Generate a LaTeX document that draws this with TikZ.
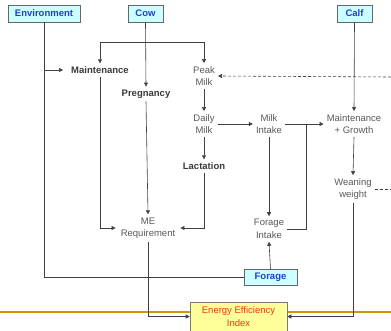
\documentclass[tikz,border=0pt]{standalone}
\usepackage{fontspec}
\setmainfont{Liberation Sans}
\usetikzlibrary{arrows.meta}
\definecolor{boxfill}{HTML}{CCFFFF}
\definecolor{boxtext}{HTML}{1F3FCC}
\definecolor{linecol}{HTML}{404040}
\definecolor{txtgray}{HTML}{595959}
\definecolor{txtdark}{HTML}{3A3A3A}
\definecolor{eeifill}{HTML}{FFFF99}
\definecolor{eeitext}{HTML}{FF3010}
\definecolor{gold}{HTML}{CC9900}
\tikzset{
  inbox/.style={draw=linecol!80, fill=boxfill, line width=0.6pt, text=boxtext,
    font=\fontsize{9.5}{11}\selectfont\bfseries, inner sep=0pt, minimum height=17pt},
  plain/.style={text=txtgray, font=\fontsize{9.5}{12.5}\selectfont, align=center, inner sep=3pt},
  strong/.style={text=txtdark, font=\fontsize{9.5}{12.5}\selectfont\bfseries, align=center, inner sep=3pt},
  conn/.style={draw=linecol, line width=0.6pt},
  arr/.style={conn, -{Triangle[length=4pt,width=4pt]}},
  dasharr/.style={arr, dash pattern=on 3pt off 2pt},
  dashline/.style={conn, dash pattern=on 3pt off 2pt}
}
\begin{document}
\begin{tikzpicture}[x=1pt,y=-1pt]
\useasboundingbox (0,0) rectangle (391,330);
% gold line
\draw[gold, line width=1.4pt] (0,312) -- (391,312);
% input boxes
\node[inbox, minimum width=72pt] (env) at (44,13.5) {Environment};
\node[inbox, minimum width=35pt] (cow) at (145.5,13.5) {Cow};
\node[inbox, minimum width=35pt] (calf) at (354.5,13.5) {Calf};
\node[inbox, minimum width=53pt, minimum height=16pt] (forage) at (270.5,277.5) {Forage};
\node[draw=linecol!70, fill=eeifill, line width=0.6pt, text=eeitext,
  font=\fontsize{9.5}{12.5}\selectfont, align=center, inner sep=0pt,
  minimum width=97pt, minimum height=29pt] (eei) at (238.5,316.5) {Energy Efficiency\\Index};
% text nodes
\node[strong] (maint) at (100,70) {Maintenance};
\node[plain] (peak) at (204,76) {Peak\\Milk};
\node[strong] (preg) at (146,94) {Pregnancy};
\node[plain] (daily) at (204,124) {Daily\\Milk};
\node[plain] (milkint) at (269,124) {Milk\\Intake};
\node[plain] (mg) at (354,124) {Maintenance\\+ Growth};
\node[strong] (lact) at (204,166) {Lactation};
\node[plain] (wean) at (353,189) {Weaning\\weight};
\node[plain] (me) at (148,228) {ME\\Requirement};
\node[plain] (fint) at (269,229) {Forage\\Intake};
% coordinates
\coordinate (envm) at (44,70);
\coordinate (splitL) at (100,42);
\coordinate (splitR) at (204,42);
\coordinate (dashR) at (391,77);
\coordinate (dashW) at (391,189);
\coordinate (jn) at (306,124);
% connectors
\draw[conn] (env.south) |- (forage.west);
\draw[arr, shorten >=5pt] (envm) -- (maint.west);
\draw[arr] (cow.south) -- (preg.north);
\draw[conn] (splitL) -- (splitR);
\draw[arr] (splitL) -- (maint.north);
\draw[arr] (splitR) -- (peak.north);
\draw[dasharr] (dashR) -- (peak.east);
\draw[arr] (peak.south) -- (daily.north);
\draw[arr] (daily.south) -- (lact.north);
\draw[arr, shorten >=2pt] (lact.south) |- (me.east);
\draw[arr, shorten >=2pt] (maint.south) |- (me.west);
\draw[arr] (preg.south) -- (me.north);
\draw[arr] (me.south) |- (eei.west);
\draw[arr] (daily.east) -- (milkint.west);
\draw[arr] (milkint.east) -- (mg.west);
\draw[arr] (milkint.south) -- (fint.north);
\draw[arr] (forage.north) -- (fint.south);
\draw[conn] (fint.east) -| (jn);
\draw[arr] (calf.south) -- (mg.north);
\draw[arr] (mg.south) -- (wean.north);
\draw[dashline] (wean.east) -- (dashW);
\draw[arr] (wean.south) |- (eei.east);
\end{tikzpicture}
\end{document}
